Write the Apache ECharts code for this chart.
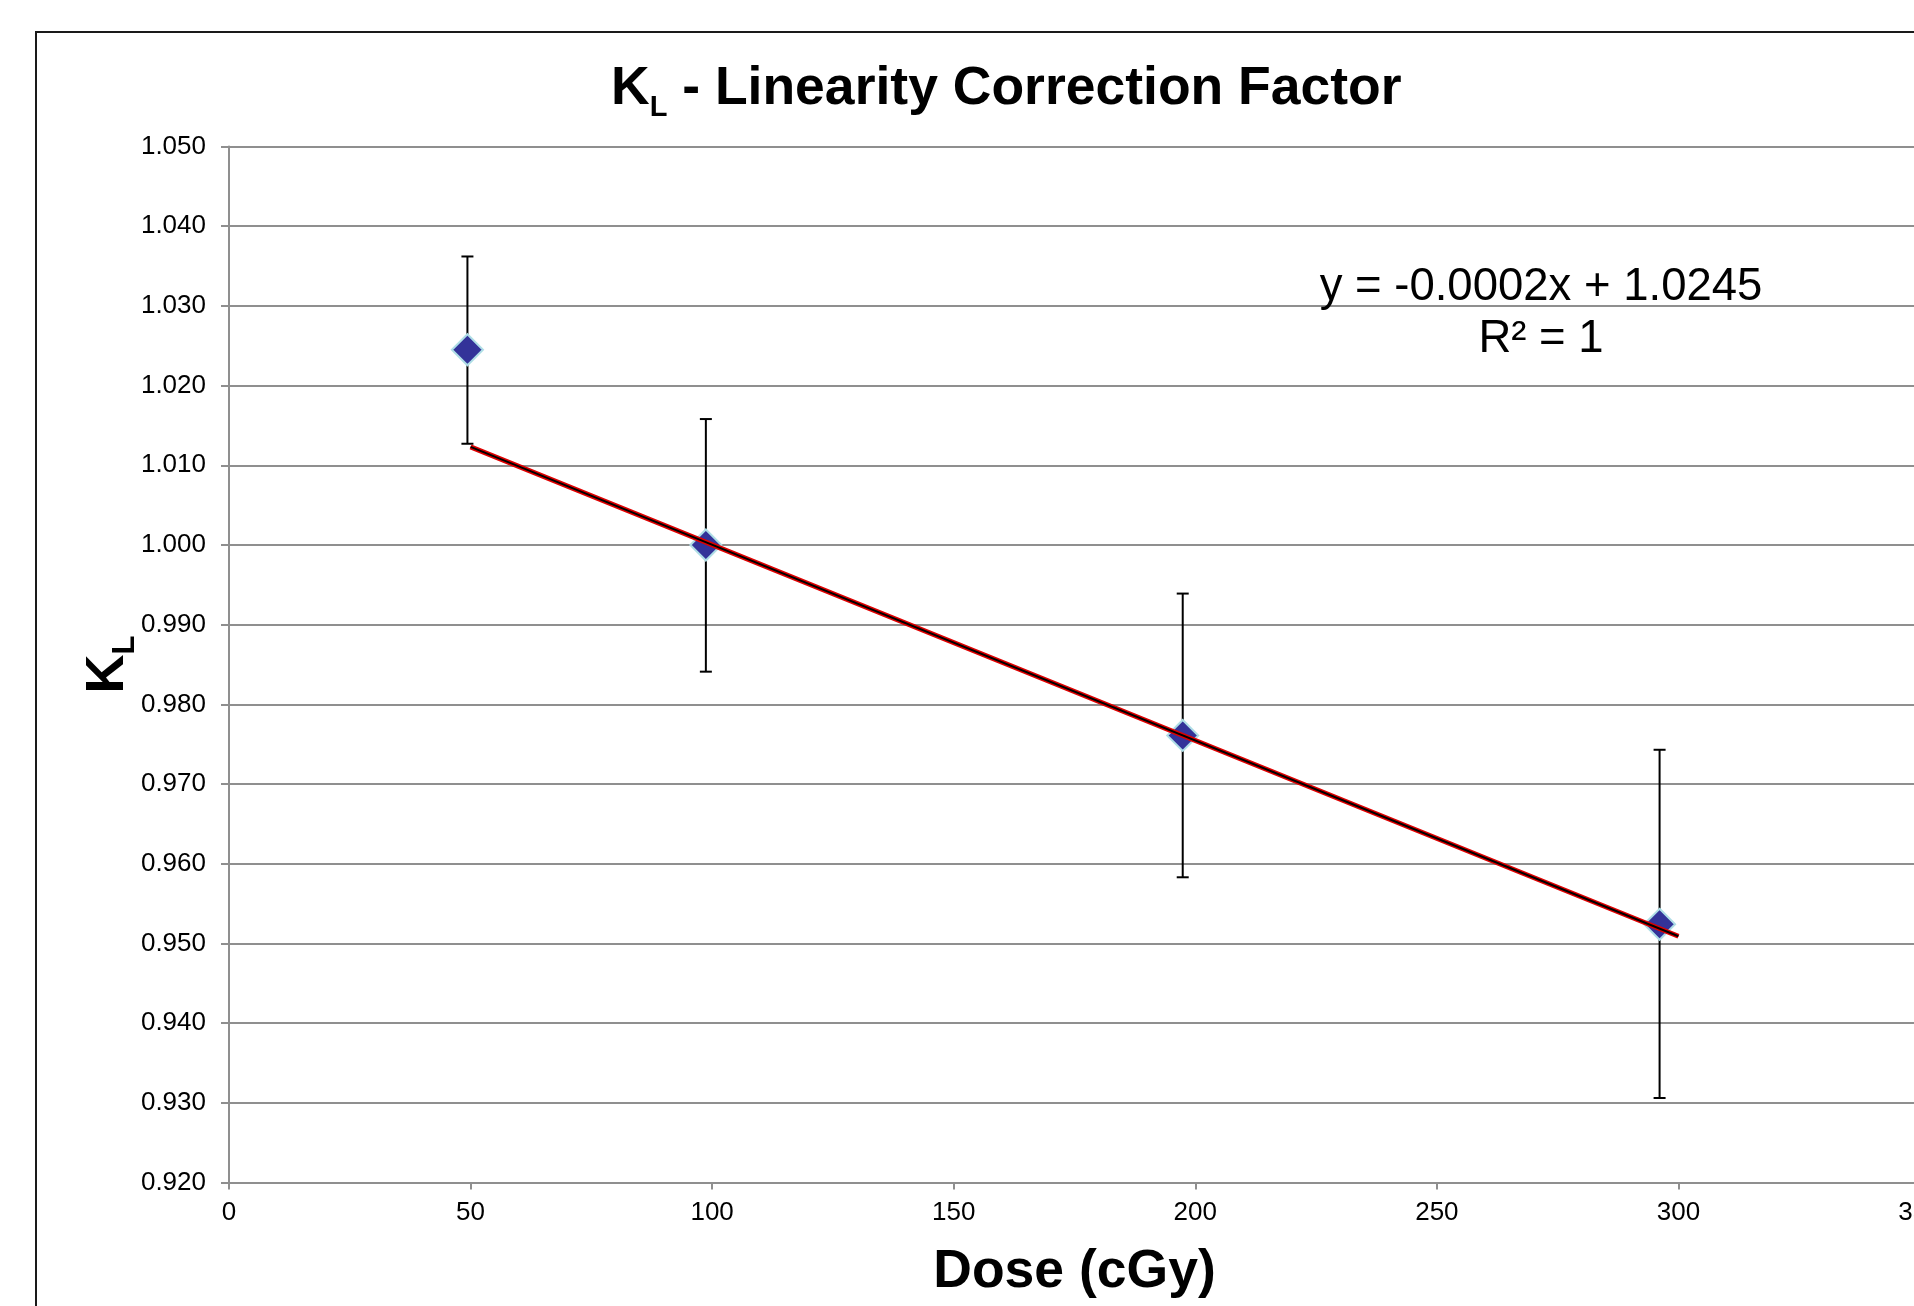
<!DOCTYPE html>
<html>
<head>
<meta charset="utf-8">
<title>KL - Linearity Correction Factor</title>
<script src="https://cdn.jsdelivr.net/npm/echarts@6/dist/echarts.min.js"></script>
<style>
  html, body { margin: 0; padding: 0; background: #fff; }
  #chart { width: 1914px; height: 1306px; }
</style>
</head>
<body>
<div id="chart"></div>
<script>
const doseValues = [49.35, 98.7, 197.4, 296.1]
const klValues = [1.0245, 1.0, 0.9761, 0.9524]
const errLow = [1.0127, 0.9841, 0.9583, 0.9306]
const errHigh = [1.0362, 1.0158, 0.9939, 0.9743]
const trendDose = [50, 300]
const trendKl = [1.0123, 0.9509]
const fitText = ['y = -0.0002x + 1.0245', 'R\u00b2 = 1']

const GRID_COLOR = '#8f8f8f'
const MARKER_COLOR = '#333399'
const FONT = '"Liberation Sans", Arial, sans-serif'

const chart = echarts.init(document.getElementById('chart'))

chart.setOption({
  animation: false,
  backgroundColor: '#fff',
  title: {
    text: '{k|K}{sub|L}{k| - Linearity Correction Factor}',
    left: 611,
    top: 56,
    padding: 0,
    textStyle: {
      rich: {
        k: { fontFamily: FONT, fontWeight: 'bold', fontSize: 53.5, lineHeight: 66, color: '#000' },
        sub: { fontFamily: FONT, fontWeight: 'bold', fontSize: 29, lineHeight: 28, verticalAlign: 'bottom', color: '#000' },
      },
    },
  },
  graphic: [
    {
      type: 'rect',
      silent: true,
      shape: { x: 36, y: 32, width: 3000, height: 3000 },
      style: { fill: 'none', stroke: '#1a1a1a', lineWidth: 2 },
      z: 0,
    },
    {
      type: 'text',
      silent: true,
      style: {
        text: fitText.join('\n'),
        x: 1541,
        y: 261,
        align: 'center',
        verticalAlign: 'top',
        fontFamily: FONT,
        fontSize: 45.5,
        lineHeight: 52,
        fill: '#000',
      },
      z: 10,
    },
  ],
  grid: {
    left: 229,
    top: 146.5,
    width: 1691,
    height: 1036,
    outerBoundsMode: 'none',
    containLabel: false,
  },
  xAxis: {
    type: 'value',
    min: 0,
    max: 350,
    interval: 50,
    name: 'Dose (cGy)',
    nameLocation: 'middle',
    nameGap: 63,
    nameTextStyle: { fontFamily: FONT, fontWeight: 'bold', fontSize: 53.5, color: '#000' },
    axisLine: { lineStyle: { color: GRID_COLOR, width: 2 } },
    axisTick: { show: true, inside: false, length: 7, lineStyle: { color: GRID_COLOR, width: 2 } },
    axisLabel: { fontFamily: FONT, fontSize: 26, color: '#000', margin: 17 },
    splitLine: { show: false },
  },
  yAxis: {
    type: 'value',
    min: 0.92,
    max: 1.05,
    interval: 0.01,
    name: '{k|K}{sub|L}',
    nameLocation: 'middle',
    nameRotate: 90,
    nameGap: 88,
    nameMoveOverlap: false,
    nameTextStyle: {
      rich: {
        k: { fontFamily: FONT, fontWeight: 'bold', fontSize: 54, lineHeight: 66, color: '#000' },
        sub: { fontFamily: FONT, fontWeight: 'bold', fontSize: 31, lineHeight: 30, verticalAlign: 'bottom', color: '#000' },
      },
    },
    axisLine: { show: true, lineStyle: { color: GRID_COLOR, width: 2 } },
    axisTick: { show: true, inside: false, length: 8, lineStyle: { color: GRID_COLOR, width: 2 } },
    axisLabel: {
      fontFamily: FONT,
      fontSize: 26,
      color: '#000',
      margin: 23,
      formatter: (v) => v.toFixed(3),
    },
    splitLine: { show: true, lineStyle: { color: GRID_COLOR, width: 2 } },
  },
  series: [
    {
      name: 'error',
      type: 'custom',
      data: doseValues.map((d, i) => [d, errLow[i], errHigh[i]]),
      renderItem: (params, api) => {
        const x = api.value(0)
        const lo = api.coord([x, api.value(1)])
        const hi = api.coord([x, api.value(2)])
        const half = 6
        const style = { stroke: '#000', lineWidth: 2 }
        return {
          type: 'group',
          children: [
            { type: 'line', shape: { x1: lo[0], y1: lo[1], x2: hi[0], y2: hi[1] }, style },
            { type: 'line', shape: { x1: lo[0] - half, y1: lo[1], x2: lo[0] + half, y2: lo[1] }, style },
            { type: 'line', shape: { x1: hi[0] - half, y1: hi[1], x2: hi[0] + half, y2: hi[1] }, style },
          ],
        }
      },
      z: 2,
    },
    {
      name: 'KL',
      type: 'scatter',
      symbol: 'diamond',
      symbolSize: 31,
      data: doseValues.map((d, i) => [d, klValues[i]]),
      itemStyle: { color: MARKER_COLOR, opacity: 1, borderColor: '#aedde6', borderWidth: 2 },
      z: 3,
    },
    {
      name: 'trend-outline',
      type: 'line',
      showSymbol: false,
      symbol: 'none',
      data: trendDose.map((d, i) => [d, trendKl[i]]),
      lineStyle: { color: '#e00000', width: 5 },
      z: 4,
    },
    {
      name: 'trend',
      type: 'line',
      showSymbol: false,
      symbol: 'none',
      data: trendDose.map((d, i) => [d, trendKl[i]]),
      lineStyle: { color: '#000', width: 2 },
      z: 5,
    },
  ],
})
</script>
</body>
</html>
